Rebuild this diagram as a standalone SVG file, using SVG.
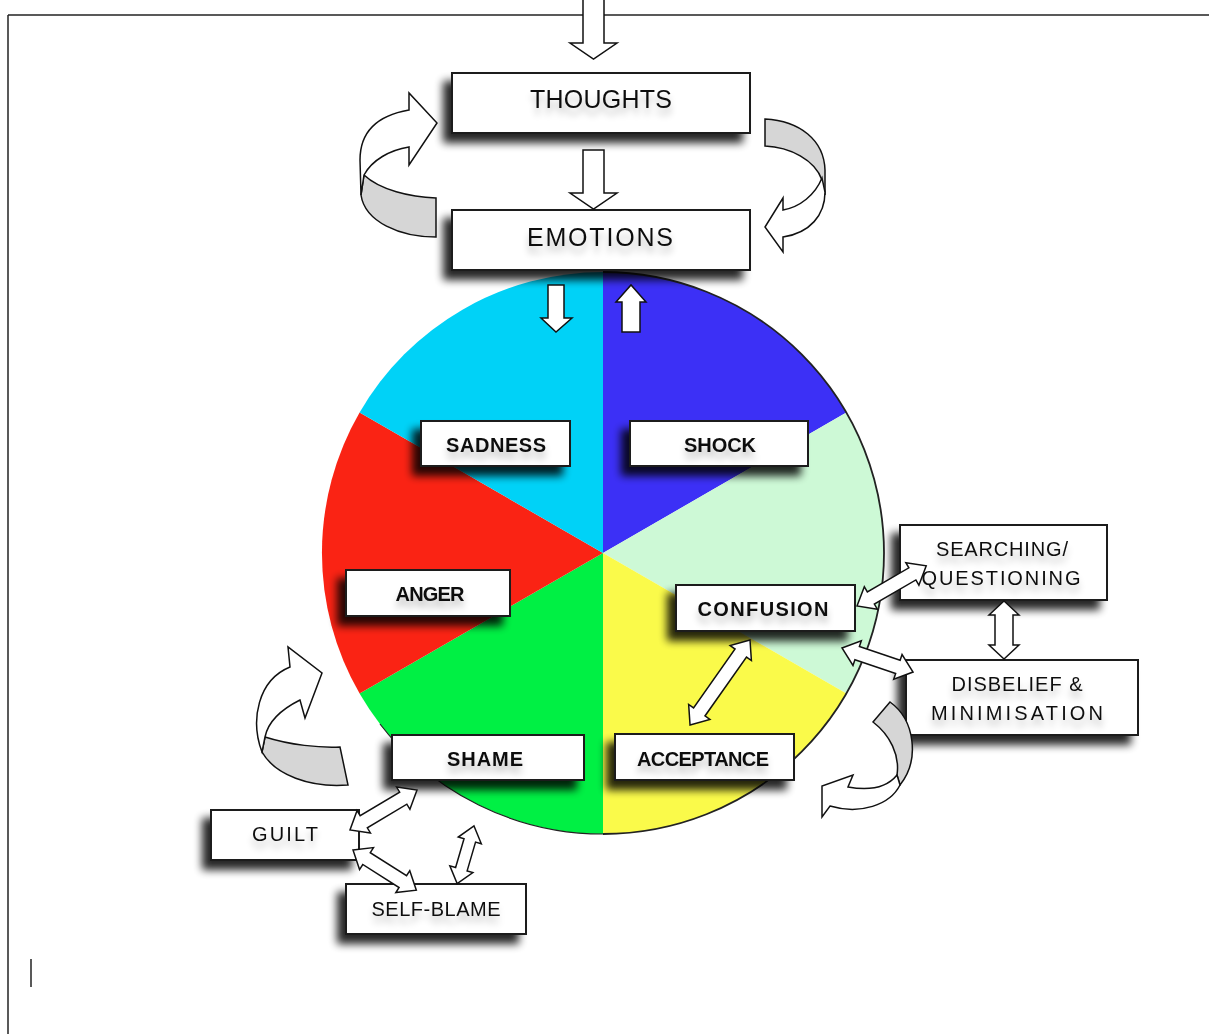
<svg xmlns="http://www.w3.org/2000/svg" width="1209" height="1034" viewBox="0 0 1209 1034">
<defs>
<filter id="sh" x="-20%" y="-30%" width="140%" height="180%">
<feGaussianBlur in="SourceAlpha" stdDeviation="4"/>
<feOffset dx="-8" dy="9"/>
<feComponentTransfer><feFuncA type="linear" slope="0.85"/></feComponentTransfer>
<feMerge><feMergeNode/><feMergeNode in="SourceGraphic"/></feMerge>
</filter>
<filter id="tsh" x="-20%" y="-50%" width="140%" height="250%">
<feGaussianBlur in="SourceAlpha" stdDeviation="3.5"/>
<feOffset dx="0" dy="7"/>
<feComponentTransfer><feFuncA type="linear" slope="0.25"/></feComponentTransfer>
<feMerge><feMergeNode/><feMergeNode in="SourceGraphic"/></feMerge>
</filter>
<style>
.box{fill:#fff;stroke:#1a1a1a;stroke-width:2}
.t{font-family:"Liberation Sans","DejaVu Sans",sans-serif;fill:#111;text-anchor:middle;filter:url(#tsh)}
.b{font-weight:bold}
.arr{fill:#fff;stroke:#111;stroke-width:1.5;stroke-linejoin:miter}
.grey{fill:#d6d6d6;stroke:#111;stroke-width:1.5}
.frame{stroke:#222;stroke-width:1.5;fill:none}
</style>
</defs>
<rect width="1209" height="1034" fill="#fff"/>
<g id="page">
<line class="frame" x1="8" y1="15" x2="583" y2="15"/>
<line class="frame" x1="604" y1="15" x2="1209" y2="15"/>
<line class="frame" x1="8" y1="15" x2="8" y2="1034"/>
<line class="frame" x1="31" y1="959" x2="31" y2="987"/>
</g>
<g id="wheel" stroke="none">
<path d="M603,553 L603,272 A281,281 0 0 1 846.4,412.5 Z" fill="#3c30f6"/>
<path d="M603,553 L846.4,412.5 A281,281 0 0 1 846.4,693.5 Z" fill="#cdf9d6"/>
<path d="M603,553 L846.4,693.5 A281,281 0 0 1 603,834 Z" fill="#fafa4a"/>
<path d="M603,553 L603,834 A281,281 0 0 1 359.6,693.5 Z" fill="#00f044"/>
<path d="M603,553 L359.6,693.5 A281,281 0 0 1 359.6,412.5 Z" fill="#fa2314"/>
<path d="M603,553 L359.6,412.5 A281,281 0 0 1 603,272 Z" fill="#00d2f7"/>
<path d="M603,272 A281,281 0 0 1 603,834" fill="none" stroke="#222" stroke-width="1.8"/>
<path d="M603,834 A281,281 0 0 1 380,724" fill="none" stroke="#222" stroke-width="1.2"/>
</g>
<g id="thoughts"><rect class="box" x="452" y="73" width="298" height="60" filter="url(#sh)"/><text class="t" x="601" y="108" font-size="25" textLength="142">THOUGHTS</text></g>
<g id="emotions"><rect class="box" x="452" y="210" width="298" height="60" filter="url(#sh)"/><text class="t" x="600" y="246" font-size="25" textLength="146">EMOTIONS</text></g>
<g id="sadness"><rect class="box" x="421" y="421" width="149" height="45" filter="url(#sh)"/><text class="t b" x="496" y="452" font-size="20" textLength="100">SADNESS</text></g>
<g id="shock"><rect class="box" x="630" y="421" width="178" height="45" filter="url(#sh)"/><text class="t b" x="720" y="452" font-size="20" textLength="72">SHOCK</text></g>
<g id="anger"><rect class="box" x="346" y="570" width="164" height="46" filter="url(#sh)"/><text class="t b" x="430" y="601" font-size="20" textLength="69">ANGER</text></g>
<g id="confusion"><rect class="box" x="676" y="585" width="179" height="46" filter="url(#sh)"/><text class="t b" x="763" y="616" font-size="20" textLength="131">CONFUSION</text></g>
<g id="searching"><rect class="box" x="900" y="525" width="207" height="75" filter="url(#sh)"/><text class="t" x="1002" y="556" font-size="20" textLength="132">SEARCHING/</text><text class="t" x="1001" y="585" font-size="20" textLength="159">QUESTIONING</text></g>
<g id="disbelief"><rect class="box" x="906" y="660" width="232" height="75" filter="url(#sh)"/><text class="t" x="1017" y="691" font-size="20" textLength="131">DISBELIEF &amp;</text><text class="t" x="1017" y="720" font-size="20" textLength="172">MINIMISATION</text></g>
<g id="acceptance"><rect class="box" x="615" y="734" width="179" height="46" filter="url(#sh)"/><text class="t b" x="703" y="766" font-size="20" textLength="132">ACCEPTANCE</text></g>
<g id="shame"><rect class="box" x="392" y="735" width="192" height="45" filter="url(#sh)"/><text class="t b" x="485" y="766" font-size="20" textLength="76">SHAME</text></g>
<g id="guilt"><rect class="box" x="211" y="810" width="148" height="50" filter="url(#sh)"/><text class="t" x="285" y="841" font-size="20" textLength="66">GUILT</text></g>
<g id="selfblame"><rect class="box" x="346" y="884" width="180" height="50" filter="url(#sh)"/><text class="t" x="436" y="916" font-size="20" textLength="129">SELF-BLAME</text></g>
<g id="connectors">
<path class="arr" d="M583,0 L583,43 L570,43 L593.5,59 L617,43 L604,43 L604,0"/>
<path class="arr" d="M583,150 L604,150 L604,193 L617,193 L593.5,209 L570,193 L583,193 Z"/>
<path class="arr" d="M548,285 L564,285 L564,318 L572,318 L556,332 L541,318 L548,318 Z"/>
<path class="arr" d="M622,332 L640,332 L640,302 L646,302 L631,285 L616,302 L622,302 Z"/>
<path class="grey" d="M364,175 C380,190 410,197 436,198 L436,237 C400,237 365,222 361,195 Z"/>
<path class="arr" d="M361,195 L360,160 C360,130 380,115 409,110 L409,93 L437,123 L409,165 L409,147 C390,150 372,160 364,175 Z"/>
<path class="grey" d="M765,119 C800,121 824,140 825,170 L825,195 C822,188 822,185 822,180 C815,160 790,147 765,146 Z"/>
<path class="arr" d="M822,178 C815,195 800,207 783,210 L783,198 L765,227 L783,252 L783,237 C810,233 825,215 825,192 Z"/>
<path class="grey" d="M265,737 C290,745 320,748 340,747 L348,785 C310,788 275,775 262,752 Z"/>
<path class="arr" d="M262,752 C250,720 258,680 290,667 L288,647 L322,673 L305,718 L300,700 C280,710 268,722 265,737 Z"/>
<path class="grey" d="M873,722 L890,702 C915,720 920,760 900,785 L897,775 C900,755 890,735 873,722 Z"/>
<path class="arr" d="M897,775 C885,790 865,790 848,787 L853,775 L822,786 L822,817 L830,806 C860,815 890,805 900,785 Z"/>
<path class="arr" transform="translate(857,606) rotate(-30.1)" d="M0,0 L16,-13 L16,-7 L64,-7 L64,-13 L80,0 L64,13 L64,7 L16,7 L16,13 Z"/>
<path class="arr" transform="translate(842,648) rotate(18.7)" d="M0,0 L16,-13 L16,-7 L59,-7 L59,-13 L75,0 L59,13 L59,7 L16,7 L16,13 Z"/>
<path class="arr" transform="translate(1004,601) rotate(90)" d="M0,0 L14,-15 L14,-9 L44,-9 L44,-15 L58,0 L44,15 L44,9 L14,9 L14,15 Z"/>
<path class="arr" transform="translate(750,640) rotate(125.2)" d="M0,0 L16,-13 L16,-7 L88,-7 L88,-13 L104,0 L88,13 L88,7 L16,7 L16,13 Z"/>
<path class="arr" transform="translate(417,790) rotate(149.2)" d="M0,0 L16,-13 L16,-7 L62,-7 L62,-13 L78,0 L62,13 L62,7 L16,7 L16,13 Z"/>
<path class="arr" transform="translate(353,850) rotate(32.4)" d="M0,0 L16,-13 L16,-7 L59,-7 L59,-13 L75,0 L59,13 L59,7 L16,7 L16,13 Z"/>
<path class="arr" transform="translate(474,826) rotate(106.3)" d="M0,0 L15,-12 L15,-6 L45,-6 L45,-12 L60,0 L45,12 L45,6 L15,6 L15,12 Z"/>
</g>
</svg>
